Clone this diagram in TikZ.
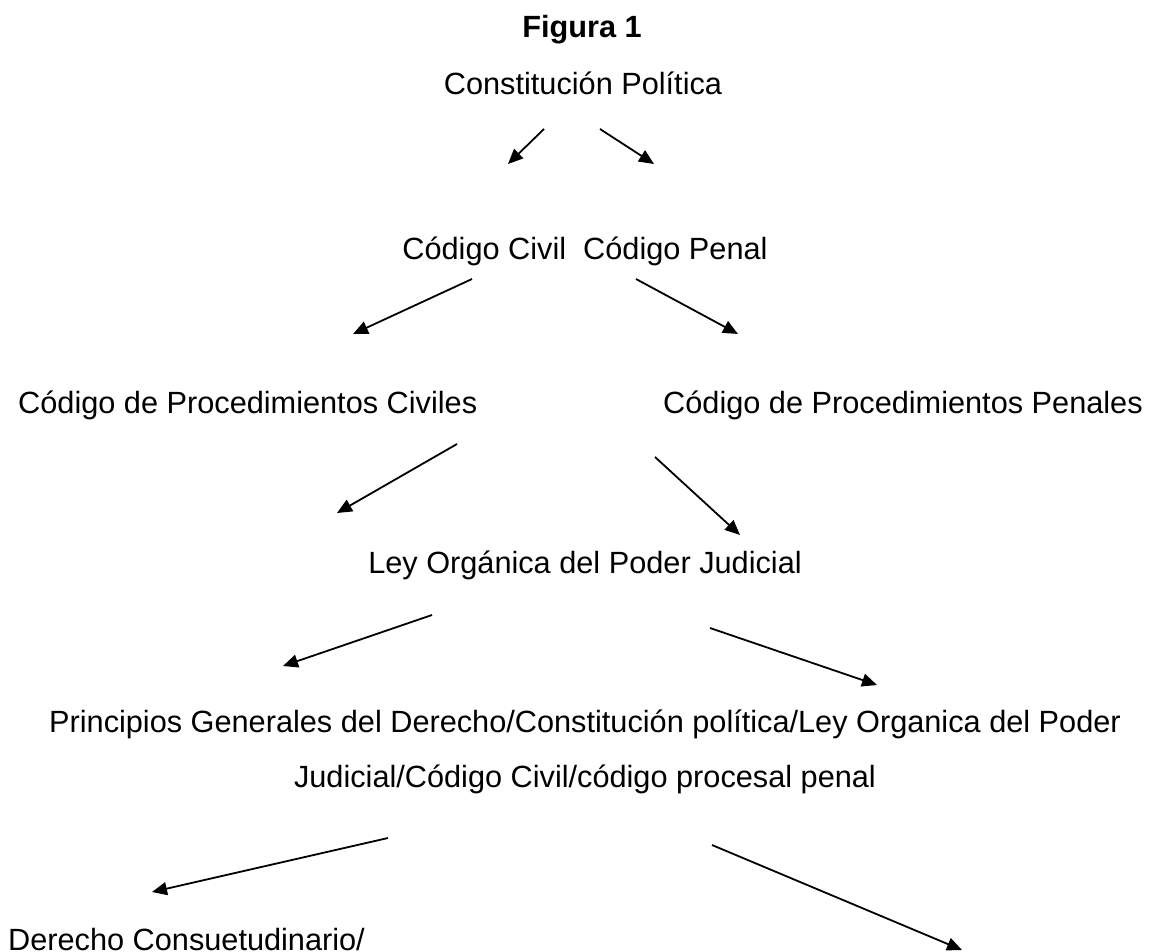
\documentclass[tikz,border=0pt]{standalone}
\usepackage{fontspec}
\setmainfont{Liberation Sans}
\usetikzlibrary{arrows.meta}
\begin{document}
\begin{tikzpicture}[x=1pt,y=-1pt,
  lbl/.style={inner sep=0pt,anchor=base,font=\fontsize{30.7}{55}\selectfont},
  lblw/.style={lbl,anchor=base west},
  arr/.style={line width=1.8pt,-{Triangle[length=15pt,width=13pt]}}]
\useasboundingbox (0,0) rectangle (1159,952);
\node[lbl,font=\fontsize{30.7}{36}\selectfont\bfseries] (fig) at (582,38) {Figura 1};
\node[lbl] (cp) at (583,95) {Constitución Política};
\node[lbl] (cc) at (585,259) {Código Civil\ \ Código Penal};
\node[lblw] (pc) at (18,413) {Código de Procedimientos Civiles};
\node[lblw] (pp) at (663,413) {Código de Procedimientos Penales};
\node[lbl] (ley) at (585,573) {Ley Orgánica del Poder Judicial};
\node[lbl] (pr1) at (585,732) {Principios Generales del Derecho/Constitución política/Ley Organica del Poder};
\node[lbl] (pr2) at (585,787) {Judicial/Código Civil/código procesal penal};
\node[lblw] (dc) at (8,950) {Derecho Consuetudinario/};
% connector ends
\coordinate (a1s) at (544,129); \coordinate (a1e) at (508,164);
\coordinate (a2s) at (600,129); \coordinate (a2e) at (654,164);
\coordinate (b1s) at (472,279); \coordinate (b1e) at (353,334);
\coordinate (b2s) at (636,279); \coordinate (b2e) at (738,334);
\coordinate (c1s) at (457,444); \coordinate (c1e) at (337,513);
\coordinate (c2s) at (655,457); \coordinate (c2e) at (740,535);
\coordinate (d1s) at (432,615); \coordinate (d1e) at (283,666);
\coordinate (d2s) at (710,628); \coordinate (d2e) at (877,685);
\coordinate (e1s) at (388,838); \coordinate (e1e) at (152,892);
\coordinate (e2s) at (712,845); \coordinate (e2e) at (962,950);
\draw[arr] (a1s) -- (a1e);
\draw[arr] (a2s) -- (a2e);
\draw[arr] (b1s) -- (b1e);
\draw[arr] (b2s) -- (b2e);
\draw[arr] (c1s) -- (c1e);
\draw[arr] (c2s) -- (c2e);
\draw[arr] (d1s) -- (d1e);
\draw[arr] (d2s) -- (d2e);
\draw[arr] (e1s) -- (e1e);
\draw[arr] (e2s) -- (e2e);
\end{tikzpicture}
\end{document}
